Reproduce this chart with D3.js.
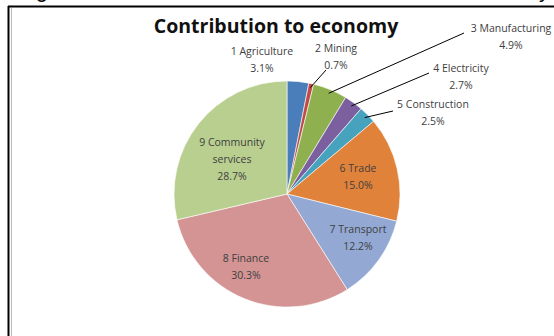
<!DOCTYPE html>
<html>
<head>
<meta charset="utf-8">
<script src="https://cdn.jsdelivr.net/npm/d3@7"></script>
<style>
  body { margin: 0; background: #fff; }
  svg { display: block; font-family: "Open Sans", "DejaVu Sans", sans-serif; }
  .lbl { font-size: 10.5px; fill: #404040; }
  .title { font-size: 19.5px; font-weight: bold; fill: #111; }
</style>
</head>
<body>
<svg width="554" height="336"></svg>
<script>
// data
var sectors = ['1 Agriculture', '2 Mining', '3 Manufacturing', '4 Electricity', '5 Construction',
               '6 Trade', '7 Transport', '8 Finance', '9 Community services'];
var shares = [3.1, 0.7, 4.9, 2.7, 2.5, 15.0, 12.2, 30.3, 28.7];
var colors = ['#4a7ebb', '#be4b48', '#8eb04f', '#7c5f9e', '#46a2bd', '#e0823a', '#93a9d4', '#d49494', '#b9cf8f'];

// label placement: where the text block sits, and whether it needs a leader line
var labelPos = [
    {x: 262, y: 55, anchor: 'middle', leader: false},
    {x: 336, y: 52, anchor: 'middle', leader: true, lx: 326, ly: 70},
    {x: 511, y: 32, anchor: 'middle', leader: true, lx: 464, ly: 33},
    {x: 461, y: 72, anchor: 'middle', leader: true, lx: 429, ly: 73},
    {x: 433, y: 108, anchor: 'middle', leader: true, lx: 393, ly: 111},
    {x: 358, y: 172, anchor: 'middle', leader: false},
    {x: 358, y: 233, anchor: 'middle', leader: false},
    {x: 246, y: 262, anchor: 'middle', leader: false},
    {x: 232, y: 146, anchor: 'middle', leader: false}
];

var svg = d3.select('svg');

// heading of the page above, mostly cut off by the crop
svg.append('text')
    .attr('x', 14).attr('y', -3)
    .attr('textLength', 536)
    .style('font-family', 'Liberation Sans, Arial, sans-serif')
    .style('font-size', '22px')
    .style('fill', '#000')
    .text('Figure 5: Sectoral contribution of ICT, economy');

// frame
svg.append('line').attr('x1', 8.5).attr('x2', 8.5).attr('y1', 6).attr('y2', 336)
    .attr('stroke', '#000').attr('stroke-width', 2);
svg.append('line').attr('x1', 8).attr('x2', 554).attr('y1', 6.5).attr('y2', 6.5)
    .attr('stroke', '#000').attr('stroke-width', 2);
svg.append('line').attr('x1', 11.5).attr('x2', 11.5).attr('y1', 8).attr('y2', 336)
    .attr('stroke', '#bbb').attr('stroke-width', 1);

svg.append('text')
    .attr('class', 'title')
    .attr('x', 276).attr('y', 33)
    .attr('text-anchor', 'middle')
    .text('Contribution to economy');

var cx = 287, cy = 194, r = 113;

var pie = d3.pie().sort(null).value(function(d){ return d; });
var arcs = pie(shares);
var arc = d3.arc().innerRadius(0).outerRadius(r);

var g = svg.append('g').attr('transform', 'translate(' + cx + ',' + cy + ')');

g.selectAll('path')
    .data(arcs)
    .enter()
    .append('path')
    .attr('d', arc)
    .attr('fill', function(d, i){ return colors[i]; })
    .attr('stroke', '#fff')
    .attr('stroke-width', 0.6);

// leader lines from slice edge to label
var edge = d3.arc().innerRadius(r - 4).outerRadius(r - 4);
arcs.forEach(function(d, i){
    var p = labelPos[i];
    if (!p.leader) return;
    var c = edge.centroid(d);
    svg.append('line')
        .attr('x1', cx + c[0]).attr('y1', cy + c[1])
        .attr('x2', p.lx).attr('y2', p.ly)
        .attr('stroke', '#000').attr('stroke-width', 1);
});

// labels
sectors.forEach(function(s, i){
    var parts = s === '9 Community services' ? ['9 Community', 'services'] : [s];
    parts.push(shares[i].toFixed(1) + '%');
    var t = svg.append('text')
        .attr('class', 'lbl')
        .attr('text-anchor', labelPos[i].anchor);
    parts.forEach(function(line, k){
        t.append('tspan')
            .attr('x', labelPos[i].x)
            .attr('y', labelPos[i].y + k * 17)
            .text(line);
    });
});
</script>
</body>
</html>
